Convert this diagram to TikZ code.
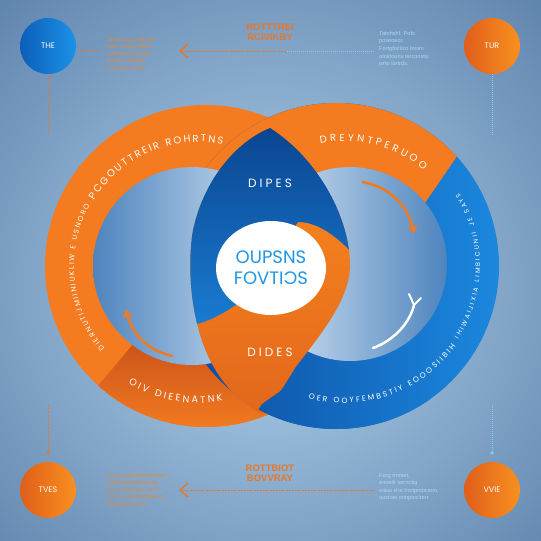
\documentclass[tikz,border=0pt]{standalone}
\usepackage{fontspec}
\usepackage{graphicx}
\usetikzlibrary{decorations.text,arrows.meta,shapes.geometric}
\newfontfamily\popf{Poppins}
\newfontfamily\libf{Liberation Sans}
\definecolor{bgblue}{HTML}{3E6493}
\definecolor{glow}{HTML}{B3D4EE}
\definecolor{ringor}{HTML}{F47B20}
\definecolor{ordark}{HTML}{C9531A}
\definecolor{rbdark}{HTML}{0B4A9E}
\definecolor{rblight}{HTML}{1B88DE}
\definecolor{disclt}{HTML}{DCEBF6}
\definecolor{discdk}{HTML}{4E84BE}
\definecolor{lensbt}{HTML}{0A438F}
\definecolor{lensbb}{HTML}{1A7DD2}
\definecolor{lensot}{HTML}{F5831F}
\definecolor{lensob}{HTML}{E2661B}
\definecolor{coreblue}{HTML}{1E95E6}
\definecolor{dashor}{HTML}{E8772A}
\definecolor{dotbl}{HTML}{86CBF5}
\definecolor{txtor}{HTML}{E38A35}
\definecolor{txtbl}{HTML}{A9D8F8}
\definecolor{arrowor}{HTML}{F07A22}
\definecolor{cblueL}{HTML}{0D5EB8}
\definecolor{cblueR}{HTML}{1A93E8}
\definecolor{corL}{HTML}{E05E1A}
\definecolor{corR}{HTML}{F8901F}
\begin{document}
\begin{tikzpicture}[x=1pt,y=-1pt,
  corner/.style={circle, minimum size=56pt, inner sep=0pt, text=white, font=\popf\fontsize{8}{8}\selectfont},
  bluecorner/.style={corner, left color=cblueL, right color=cblueR},
  orcorner/.style={corner, left color=corL, right color=corR},
  odash/.style={draw=dashor, line width=1pt, dash pattern=on 2pt off 1.2pt},
  bdot/.style={draw=dotbl, line width=1pt, dash pattern=on 1pt off 1pt},
  chev/.style={-{Straight Barb[length=8pt,width=14pt,line width=1.4pt]}},
  smallor/.style={text=txtor, font=\libf\fontsize{5.6}{7.2}\selectfont, align=left, anchor=north west, inner sep=0pt},
  smallbl/.style={text=txtbl, font=\libf\fontsize{5.6}{7.6}\selectfont, align=left, anchor=north west, inner sep=0pt},
  midlbl/.style={text=dashor, font=\libf\bfseries\fontsize{9.5}{10}\selectfont, align=center, inner sep=0pt},
  lenslbl/.style={text=white, font=\popf\addfontfeatures{LetterSpace=25}\fontsize{12}{12}\selectfont, inner sep=0pt},
  curvarrow/.style={draw=arrowor, line width=2.6pt, -{Stealth[length=9pt,width=10pt]}}
]
\useasboundingbox (0,0) rectangle (541,541);
% background
\fill[bgblue] (0,0) rectangle (541,541);
\begin{scope}
  \clip (0,0) rectangle (541,541);
  \shade[inner color=glow, outer color=bgblue] (270,290) circle (560);
\end{scope}

% left ring
\fill[ringor] (206,266) circle (161);
\begin{scope}
  \clip (206,266) circle (161);
  \clip (199,266) -- (324,482) -- (177,515) -- (38,457) -- cycle;
  \shade[top color=ordark, bottom color=ringor] (30,340) rectangle (330,430);
\end{scope}

% right ring
\shade[left color=rbdark, right color=rblight] (336,266) circle (163);
\begin{scope}
  \clip (180,280) -- (180,60) -- (523,60) -- (427,200) -- (380,268) -- cycle;
  \fill[ringor] (336,266) circle (163);
\end{scope}

% inner discs
\shade[left color=discdk, right color=disclt] (192,266) circle (99);
\shade[left color=disclt, right color=discdk] (350,264) circle (97);

% lens
\begin{scope}
  \clip (270,128) .. controls (240,140) and (205,175) .. (193,230)
        .. controls (187,265) and (190,320) .. (210,360)
        .. controls (225,390) and (245,405) .. (262,414)
        .. controls (275,400) and (285,385) .. (295,368)
        .. controls (320,335) and (350,300) .. (350,265)
        .. controls (350,220) and (320,160) .. (270,128) -- cycle;
  \shade[top color=lensot, bottom color=lensob] (180,200) rectangle (360,420);
  \begin{scope}
    \clip (150,90) -- (150,325) -- (193,325) .. controls (215,320) and (232,308) .. (245,298)
          -- (298,222) .. controls (320,222) and (342,240) .. (360,262) -- (400,262) -- (400,90) -- cycle;
    \shade[top color=lensbt, bottom color=lensbb] (180,120) rectangle (360,330);
  \end{scope}
\end{scope}

% right ring passing over at bottom
\begin{scope}
  \clip (336,266) circle (163);
  \clip (225,460) -- (262,404) -- (292,383) -- (318,368) -- (340,366) -- (430,366) -- (430,460) -- cycle;
  \shade[left color=rbdark, right color=rblight] (336,266) circle (163);
\end{scope}

% core
\node[ellipse, fill=white, minimum width=110pt, minimum height=94pt, inner sep=0pt,
      text=coreblue, align=center, font=\popf\fontsize{18}{21}\selectfont] (core) at (271,268)
      {OUPSNS\\FOVTI\reflectbox{C}S};
\node[lenslbl] (dipes) at (270,183) {DIPES};
\node[lenslbl] (dides) at (270,352) {DIDES};

% ring texts
\path[decorate, decoration={text along path, text align={fit to path},
  text={|\popf\fontsize{7.2}{7.2}\selectfont\color{white}|DIERNUTIJMIINIUKLIW E USNORO}}]
  (199,266) ++(139:125) arc[start angle=139, end angle=209, radius=125];
\path[decorate, decoration={text along path, text align={fit to path},
  text={|\popf\fontsize{10}{10}\selectfont\color{white}|PCGOUTTREIR ROHRTNS}}]
  (199,266) ++(212:124) arc[start angle=212, end angle=281, radius=124];
\path[decorate, decoration={text along path, text align={fit to path},
  text={|\popf\fontsize{10}{10}\selectfont\color{white}|DREYNTPERUOO}}]
  (344,265) ++(259:124) arc[start angle=259, end angle=310, radius=124];
\path[decorate, decoration={text along path, text align={fit to path},
  text={|\popf\fontsize{7.6}{7.6}\selectfont\color{white}|OER OOYFEMBSTIY EOOOSIIBIH}}]
  (344,265) ++(105:138) arc[start angle=105, end angle=36, radius=138];
\path[decorate, decoration={text along path, text align={fit to path},
  text={|\popf\fontsize{6.4}{6.4}\selectfont\color{white}|IHIWAIJIXIA LIMBICUNII JE SAYS}}]
  (344,265) ++(33:136) arc[start angle=33, end angle=-32, radius=136];
\path[decorate, decoration={text along path, text align={fit to path},
  text={|\popf\fontsize{9.5}{9.5}\selectfont\color{white}|OIV DIEENATNK}}]
  (199,266) ++(121:137) arc[start angle=121, end angle=80, radius=137];

% inner arrows
\draw[curvarrow] (173,356) .. controls (150,352) and (132,335) .. (126,309);
\draw[curvarrow] (362,182) .. controls (388,186) and (408,205) .. (414,234);
\draw[white, line width=2.5pt, line cap=round] (373,348) .. controls (395,340) and (410,322) .. (414,305);
\draw[white, line width=2pt, line cap=round] (409,294) -- (414,305) -- (421,298);

% corner circles
\node[bluecorner] (c1) at (48,46) {THE};
\node[orcorner] (c2) at (492,46) {TUR};
\node[orcorner] (c3) at (48,490) {TVES};
\node[orcorner] (c4) at (492,490) {VVIE};

% connectors
\coordinate (s1a) at (81,51);
\coordinate (s1b) at (100,51);
\draw[odash] (s1a) -- (s1b);
\coordinate (v1) at (48,133);
\draw[odash] (c1.south) -- (v1);
\coordinate (v2) at (492,135);
\draw[bdot] (c2.south) -- (v2);
\coordinate (v3) at (48,405);
\coordinate (d3) at (48,453);
\draw[odash] (v3) -- (d3);
\fill[dashor] (d3) circle (1.8);
\coordinate (v4) at (492,405);
\coordinate (d4) at (492,453);
\draw[bdot] (v4) -- (d4);
\fill[dotbl] (d4) circle (1.8);

\coordinate (ta1) at (374,51);
\coordinate (tam) at (286,51);
\coordinate (ta2) at (179,51);
\draw[bdot] (ta1) -- (tam);
\draw[odash] (tam) -- (ta2);
\draw[dashor, line width=1.4pt, chev] ([xshift=1pt]ta2) -- (ta2);
\coordinate (ba1) at (374,490);
\coordinate (ba2) at (179,490);
\draw[odash] (ba1) -- (ba2);
\draw[dashor, line width=1.4pt, chev] ([xshift=1pt]ba2) -- (ba2);

% labels
\node[midlbl] (lt) at (270,32) {ROTTTREI\\RCIVIKBY};
\node[midlbl] (lb) at (270,473) {ROTTBIOT\\BOVVRAY};

\node[smallor] (tl) at (107,37) {idinbus bo lcatrwrie\\naar Ineves Bteirc\\unturcrice brlr bib\\borrhdl ubletoiy\\sno urtous mdo};
\node[smallbl] (tr) at (379,31) {Tatohshl. Pofs\\poseoeoc\\Fortgfoctico Inoim\\otoidouns tercoostiy\\wrto lortrds.};
\node[smallor] (bl) at (107,473) {Ibrmy bugmnnrtrdmmeu\\rrduun bnmentouure\\su ne Inot bdu. Ibn fi\\bi bi n a bunhnnbarunt\\brndrdnve tome};
\node[smallbl] (br) at (379,473) {Forg rmmet,\\enoeilr sernotig\\soius d ie bortpntoceon,\\oostoie onnptoclrerr};
\end{tikzpicture}
\end{document}
